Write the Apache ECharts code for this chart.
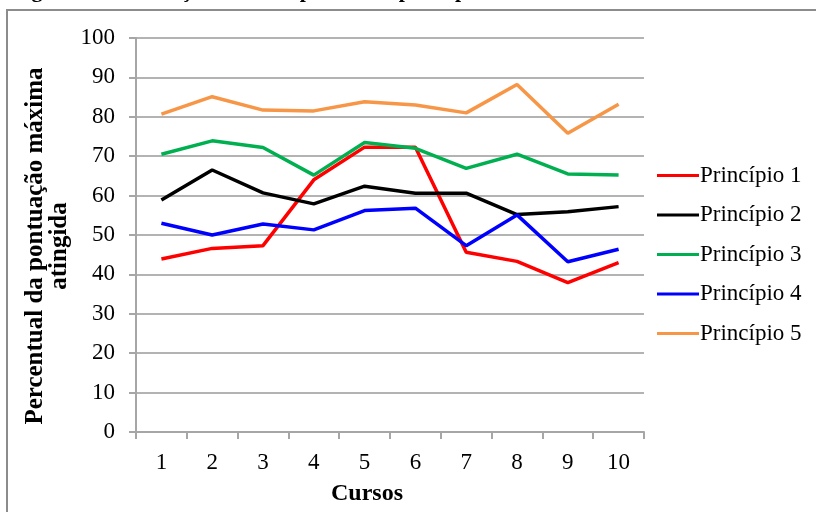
<!DOCTYPE html>
<html>
<head>
<meta charset="utf-8">
<script src="https://cdn.jsdelivr.net/npm/echarts@6/dist/echarts.min.js"></script>
<style>html,body{margin:0;padding:0;background:#fff}#c{width:816px;height:512px}</style>
</head>
<body>
<div id="c"></div>
<script>
const categories = ['1','2','3','4','5','6','7','8','9','10'];
const seriesNames = ['Princípio 1','Princípio 2','Princípio 3','Princípio 4','Princípio 5'];
const p1 = [43.9, 46.6, 47.3, 64.0, 72.3, 72.3, 45.6, 43.3, 37.9, 43.0];
const p2 = [58.9, 66.5, 60.7, 57.9, 62.4, 60.6, 60.6, 55.2, 55.9, 57.2];
const p3 = [70.5, 73.9, 72.2, 65.2, 73.5, 72.0, 66.9, 70.5, 65.5, 65.2];
const p4 = [53.0, 50.0, 52.8, 51.3, 56.2, 56.8, 47.3, 55.1, 43.2, 46.4];
const p5 = [80.7, 85.1, 81.7, 81.5, 83.8, 83.0, 81.0, 88.2, 75.8, 83.2];
const yTicks = [0,10,20,30,40,50,60,70,80,90,100];
const colors = ['#ff0000','#000000','#00b050','#0000ff','#f79646'];
const values = [p1,p2,p3,p4,p5];
const font = 'Liberation Serif';

const chart = echarts.init(document.getElementById('c'));
chart.setOption({
  animation: false,
  backgroundColor: '#fff',
  grid: {left: 136, right: 172, top: 38, bottom: 80, containLabel: false},
  xAxis: {
    type: 'category', data: categories, boundaryGap: true,
    axisLine: {lineStyle: {color: '#a6a6a6', width: 2}},
    axisTick: {show: true, length: 7, inside: false, lineStyle: {color: '#a6a6a6', width: 2}},
    axisLabel: {color: '#000', fontFamily: font, fontSize: 23, margin: 19}
  },
  yAxis: {
    type: 'value', min: yTicks[0], max: yTicks[yTicks.length-1], interval: 10,
    axisLine: {show: true, lineStyle: {color: '#a6a6a6', width: 2}},
    axisTick: {show: true, length: 7, lineStyle: {color: '#a6a6a6', width: 2}},
    splitLine: {show: true, lineStyle: {color: '#b3b3b3', width: 2}},
    axisLabel: {color: '#000', fontFamily: font, fontSize: 23, margin: 21}
  },
  legend: {
    orient: 'vertical', left: 652, top: 159,
    itemWidth: 42, itemHeight: 3, itemGap: 16.5,
    icon: 'rect',
    textStyle: {color: '#000', fontFamily: font, fontSize: 23, padding: [0,0,0,-4]},
    data: seriesNames
  },
  series: seriesNames.map((n, i) => ({
    name: n, type: 'line', data: values[i], symbol: 'none',
    lineStyle: {color: colors[i], width: 3.5},
    itemStyle: {color: colors[i]}
  })),
  graphic: [
    {type: 'rect', shape: {x: 7, y: 10, width: 840, height: 540}, style: {fill: 'none', stroke: '#8c8c8c', lineWidth: 2}, silent: true},
    {type: 'text', x: 12, y: -20, style: {text: 'Figura 3 – Pontuações obtidas para cada princípio.', fontFamily: font, fontSize: 22, fontWeight: 'bold', fill: '#000'}},
    {type: 'text', x: 367, y: 494, style: {text: 'Cursos', fontFamily: font, fontSize: 24, fontWeight: 'bold', fill: '#000', align: 'center', verticalAlign: 'middle'}},
    {type: 'text', x: 48, y: 246, rotation: Math.PI/2, style: {text: 'Percentual da pontuação máxima\natingida', fontFamily: font, fontSize: 25, fontWeight: 'bold', fill: '#000', align: 'center', verticalAlign: 'middle', lineHeight: 24}}
  ]
});
</script>
</body>
</html>
